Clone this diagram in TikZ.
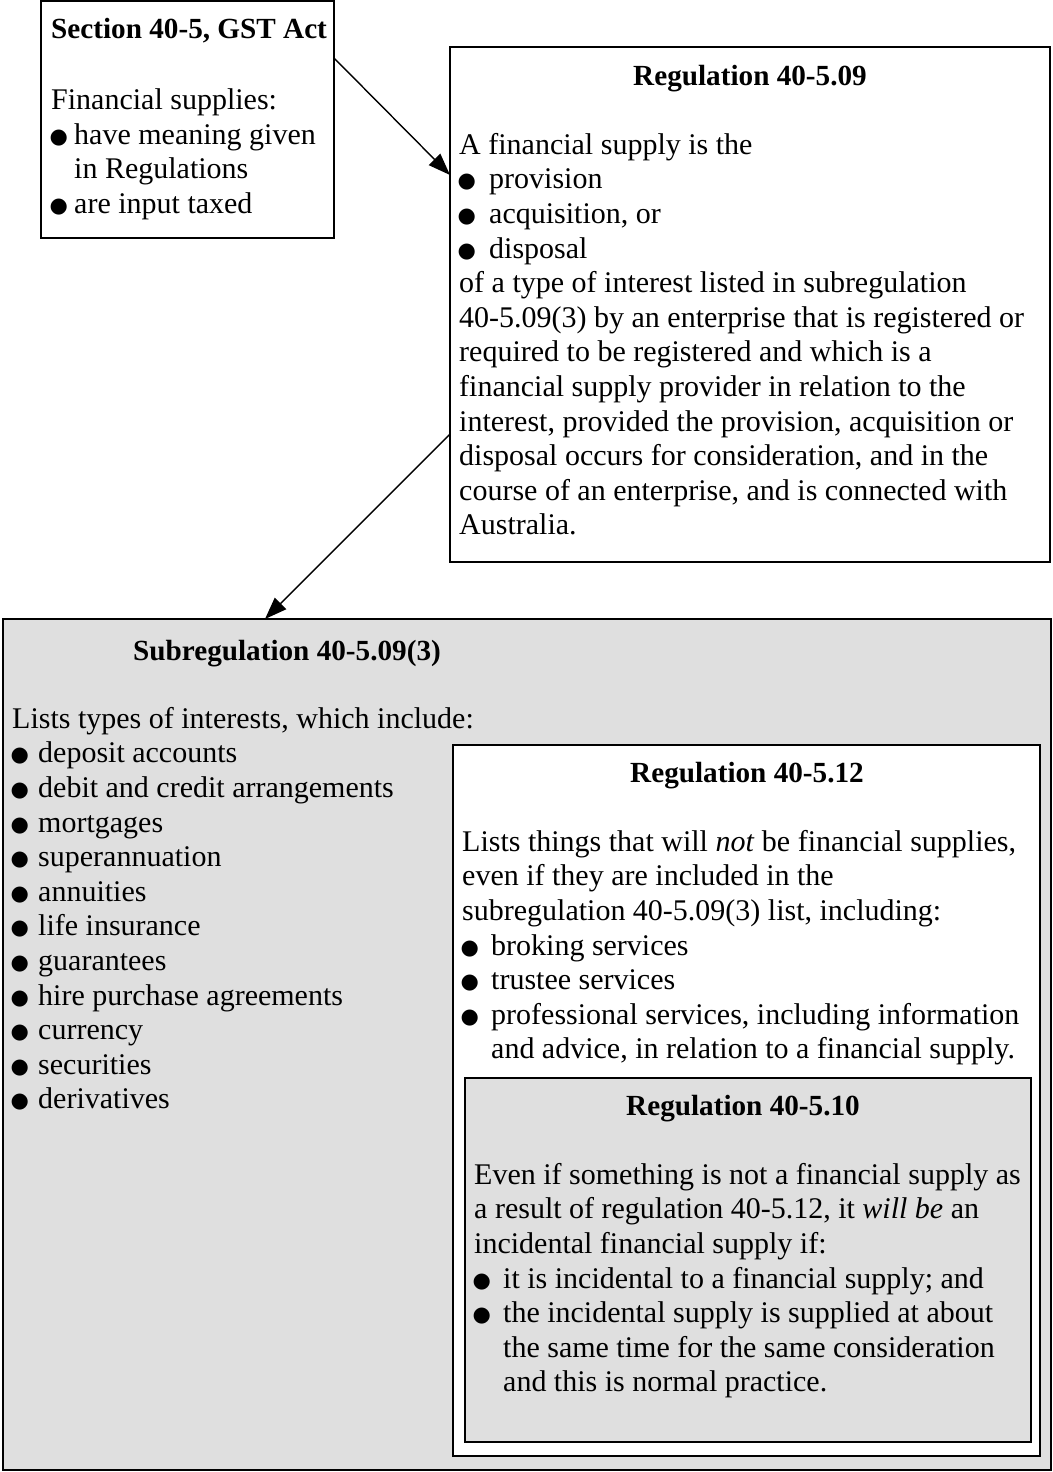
\documentclass[tikz,border=0pt]{standalone}
\usepackage{fontspec}
\setmainfont{Liberation Serif}
\newfontfamily\dotfont{DejaVu Sans}
\usetikzlibrary{arrows.meta}
\definecolor{panelgray}{gray}{0.875}
\newcommand{\bodyfont}{\fontsize{30}{34.6}\selectfont}
\newcommand{\headfont}{\fontsize{29.2}{34.6}\selectfont\bfseries}
\newcommand{\bdot}[1]{\makebox[#1][l]{\hspace*{-1.5pt}\raisebox{1pt}{\dotfont\fontsize{21}{21}\selectfont ●}}}

\begin{document}
\begin{tikzpicture}[x=1pt,y=-1pt,
    plainbox/.style={draw, line width=1.7pt, fill=white, anchor=north west, inner sep=0pt, outer sep=0pt},
    greybox/.style={plainbox, fill=panelgray},
    head/.style={anchor=base, inner sep=0pt, font=\headfont},
    para/.style={anchor=north west, inner sep=0pt, align=left, font=\bodyfont},
    link/.style={line width=1.4pt, -{Triangle[length=22pt,width=16pt]}}]
  \useasboundingbox (0,0) rectangle (1052,1472);
  \node[plainbox, minimum width=293pt, minimum height=237pt] (sec405) at (41,1) {};
  \node[plainbox, minimum width=600pt, minimum height=515pt] (reg509) at (450,47) {};
  \node[greybox, minimum width=1048pt, minimum height=851pt] (subreg) at (3,619) {};
  \node[plainbox, minimum width=587pt, minimum height=711pt] (reg512) at (453,745) {};
  \node[greybox, minimum width=566pt, minimum height=364pt] (reg510) at (465,1078) {};

  \node[head, anchor=base west] (sec405h) at (51,39) {Section 40-5, GST Act};
  \node[head] (reg509h) at (750,85) {Regulation 40-5.09};
  \node[head] (subregh) at (287,660) {Subregulation 40-5.09(3)};
  \node[head] (reg512h) at (747,782) {Regulation 40-5.12};
  \node[head] (reg510h) at (743,1115) {Regulation 40-5.10};

  \node[para] (sec405t) at (51,85.3) {\strut Financial supplies:\\
    \bdot{23pt}have meaning given\\
    \hspace*{23pt}in Regulations\\
    \bdot{23pt}are input taxed};
  \node[para] (reg509t) at (459,129.8) {\strut A financial supply is the\\
    \bdot{30pt}provision\\
    \bdot{30pt}acquisition, or\\
    \bdot{30pt}disposal\\
    of a type of interest listed in subregulation\\
    40-5.09(3) by an enterprise that is registered or\\
    required to be registered and which is a\\
    financial supply provider in relation to the\\
    interest, provided the provision, acquisition or\\
    disposal occurs for consideration, and in the\\
    course of an enterprise, and is connected with\\
    Australia.};
  \node[para] (subregt) at (12,703.8) {\strut Lists types of interests, which include:\\
    \bdot{26pt}deposit accounts\\
    \bdot{26pt}debit and credit arrangements\\
    \bdot{26pt}mortgages\\
    \bdot{26pt}superannuation\\
    \bdot{26pt}annuities\\
    \bdot{26pt}life insurance\\
    \bdot{26pt}guarantees\\
    \bdot{26pt}hire purchase agreements\\
    \bdot{26pt}currency\\
    \bdot{26pt}securities\\
    \bdot{26pt}derivatives};
  \node[para] (reg512t) at (462,826.8) {\strut Lists things that will \textit{not} be financial supplies,\\
    even if they are included in the\\
    subregulation 40-5.09(3) list, including:\\
    \bdot{29pt}broking services\\
    \bdot{29pt}trustee services\\
    \bdot{29pt}professional services, including information\\
    \hspace*{29pt}and advice, in relation to a financial supply.};
  \node[para] (reg510t) at (474,1159.8) {\strut Even if something is not a financial supply as\\
    a result of regulation 40-5.12, it \textit{will be} an\\
    incidental financial supply if:\\
    \bdot{29pt}it is incidental to a financial supply; and\\
    \bdot{29pt}the incidental supply is supplied at about\\
    \hspace*{29pt}the same time for the same consideration\\
    \hspace*{29pt}and this is normal practice.};

  \begin{scope}[link]
    \draw ([yshift=-57pt]sec405.north east) -- ([yshift=-128pt]reg509.north west);
    \draw ([yshift=-387pt]reg509.north west) -- ([xshift=262pt]subreg.north west);
  \end{scope}
\end{tikzpicture}
\end{document}
